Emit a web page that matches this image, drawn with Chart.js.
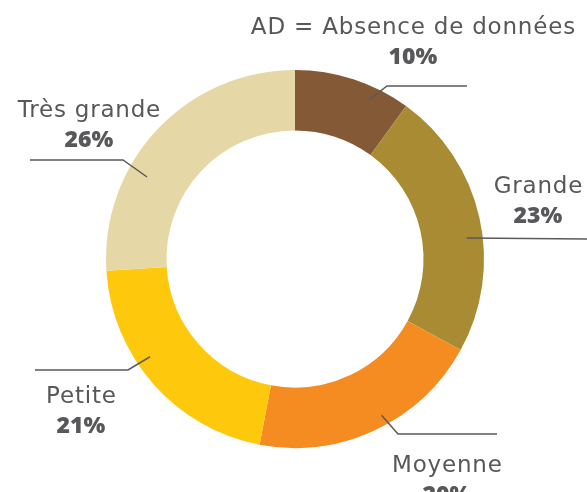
<!DOCTYPE html>
<html>
<head>
<meta charset="utf-8">
<script src="https://cdn.jsdelivr.net/npm/chart.js@4"></script>
<style>
  html, body { margin: 0; padding: 0; background: #fff; }
  #wrap { position: relative; width: 587px; height: 492px; overflow: hidden; }
</style>
</head>
<body>
<div id="wrap"><canvas id="ResultChart"></canvas></div>
<script>
// data
var categories = ['AD = Absence de données', 'Grande', 'Moyenne', 'Petite', 'Très grande'];
var values = [10, 23, 20, 21, 26];
var colors = ['#845935', '#A98B33', '#F58C21', '#FEC90C', '#E6D8A6'];

// label placement: leader start (angle deg, fraction of outer radius), elbow, end, text centre and baselines
var labelPos = [
  { ang: -65, rf: 0.93, elbow: [387, 86], end: [467, 86], tx: 413, ty: 34 },
  { ang: -7, rf: 0.915, elbow: null, end: [590, 239], tx: 538, ty: 193 },
  { ang: 61, rf: 0.945, elbow: [398, 434], end: [497, 434], tx: 447, ty: 472 },
  { ang: 146, rf: 0.925, elbow: [128, 370], end: [35, 370], tx: 81, ty: 403 },
  { ang: -151, rf: 0.895, elbow: [123, 160], end: [30, 160], tx: 89, ty: 117 }
];

var TEXT_COLOR = '#58585A';

var leaderLabels = {
  id: 'leaderLabels',
  afterDraw: function (chart) {
    var ctx = chart.ctx;
    var arc = chart.getDatasetMeta(0).data[0];
    var cx = arc.x, cy = arc.y, r = arc.outerRadius;
    ctx.save();
    labelPos.forEach(function (p, i) {
      var a = p.ang * Math.PI / 180;
      var sx = cx + Math.cos(a) * r * p.rf;
      var sy = cy + Math.sin(a) * r * p.rf;
      ctx.strokeStyle = '#5A5A5C';
      ctx.lineWidth = 1.5;
      ctx.beginPath();
      ctx.moveTo(sx, sy);
      if (p.elbow) ctx.lineTo(p.elbow[0], p.elbow[1]);
      ctx.lineTo(p.end[0], p.end[1]);
      ctx.stroke();

      ctx.fillStyle = TEXT_COLOR;
      ctx.textAlign = 'center';
      ctx.textBaseline = 'alphabetic';
      ctx.font = '23px "DejaVu Sans", sans-serif';
      ctx.letterSpacing = '0.8px';
      ctx.fillText(categories[i], p.tx + 0.4, p.ty);
      ctx.font = '800 23px "Open Sans", sans-serif';
      ctx.letterSpacing = '0px';
      ctx.fillText(values[i] + '%', p.tx, p.ty + 30);
    });
    ctx.restore();
  }
};

var ctx = document.getElementById('ResultChart').getContext('2d');
var ResultChart = new Chart(ctx, {
  type: 'doughnut',
  data: {
    labels: categories,
    datasets: [{
      data: values,
      backgroundColor: colors,
      borderWidth: 0
    }]
  },
  options: {
    responsive: true,
    maintainAspectRatio: false,
    animation: false,
    cutout: '68%',
    layout: { padding: { left: 106, right: 103, top: 70, bottom: 44 } },
    plugins: {
      legend: { display: false },
      tooltip: { enabled: false }
    }
  },
  plugins: [leaderLabels]
});
</script>
</body>
</html>
